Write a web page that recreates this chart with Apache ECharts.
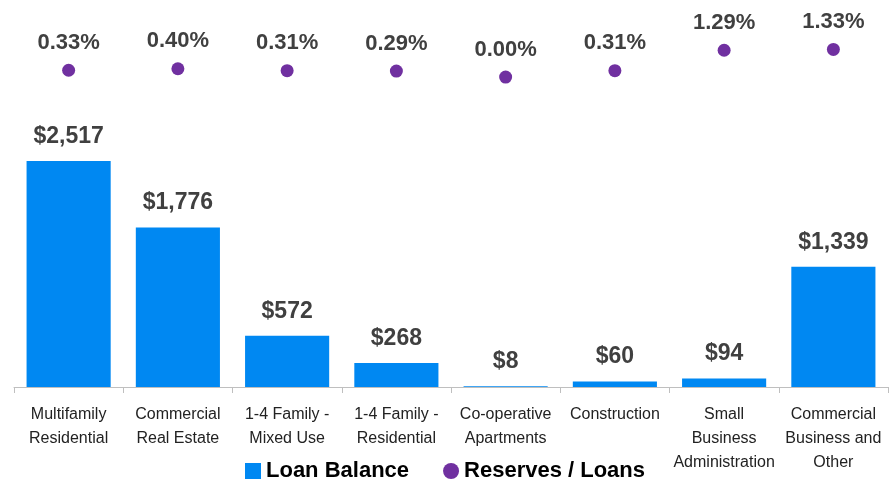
<!DOCTYPE html>
<html>
<head>
<meta charset="utf-8">
<script src="https://cdn.jsdelivr.net/npm/echarts@6/dist/echarts.min.js"></script>
<style>
  html, body { margin: 0; padding: 0; background: #fff; }
  #chart { width: 896px; height: 479px; }
</style>
</head>
<body>
<div id="chart"></div>
<script>
var categories = ['Multifamily\nResidential', 'Commercial\nReal Estate', '1-4 Family -\nMixed Use',
    '1-4 Family -\nResidential', 'Co-operative\nApartments', 'Construction',
    'Small\nBusiness\nAdministration', 'Commercial\nBusiness and\nOther'];
var loanBalance = [2517, 1776, 572, 268, 8, 60, 94, 1339];
var reservesPct = [0.33, 0.40, 0.31, 0.29, 0.00, 0.31, 1.29, 1.33];

var font = '"Liberation Sans", Arial, sans-serif';

var myChart = echarts.init(document.getElementById('chart'));
myChart.setOption({
    animation: false,
    textStyle: { fontFamily: font },
    grid: { left: 14, right: 8, top: 28, bottom: 92 },
    legend: {
        top: 455,
        left: 240,
        itemGap: 34,
        itemWidth: 16,
        itemHeight: 16,
        textStyle: { fontSize: 22, fontWeight: 'bold', color: '#000', fontFamily: font },
        data: [
            { name: 'Loan Balance', icon: 'rect' },
            { name: 'Reserves / Loans', icon: 'circle' }
        ]
    },
    xAxis: {
        type: 'category',
        data: categories,
        axisLine: { lineStyle: { color: '#BFBFBF', width: 1 } },
        axisTick: { show: true, length: 6, alignWithLabel: false, lineStyle: { color: '#BFBFBF' } },
        axisLabel: { color: '#222', fontSize: 16, lineHeight: 24, margin: 16, interval: 0, fontFamily: font }
    },
    yAxis: [
        { type: 'value', min: 0, max: 4000, show: false, splitLine: { show: false } },
        { type: 'value', min: -14.9, max: 2.36, show: false, splitLine: { show: false } }
    ],
    series: [
        {
            name: 'Loan Balance',
            type: 'bar',
            barWidth: '77%',
            itemStyle: { color: '#0088F2' },
            label: {
                show: true,
                position: 'top',
                distance: 13,
                fontSize: 23,
                fontWeight: 'bold',
                color: '#404040',
                fontFamily: font,
                formatter: function (p) {
                    return '$' + p.value.toLocaleString('en-US');
                }
            },
            data: loanBalance
        },
        {
            name: 'Reserves / Loans',
            type: 'scatter',
            yAxisIndex: 1,
            symbolSize: 13,
            itemStyle: { color: '#7030A0', opacity: 1 },
            label: {
                show: true,
                position: 'top',
                distance: 10,
                fontSize: 22,
                fontWeight: 'bold',
                color: '#404040',
                opacity: 1,
                fontFamily: font,
                formatter: function (p) {
                    return p.value.toFixed(2) + '%';
                }
            },
            data: reservesPct
        }
    ]
});
</script>
</body>
</html>
